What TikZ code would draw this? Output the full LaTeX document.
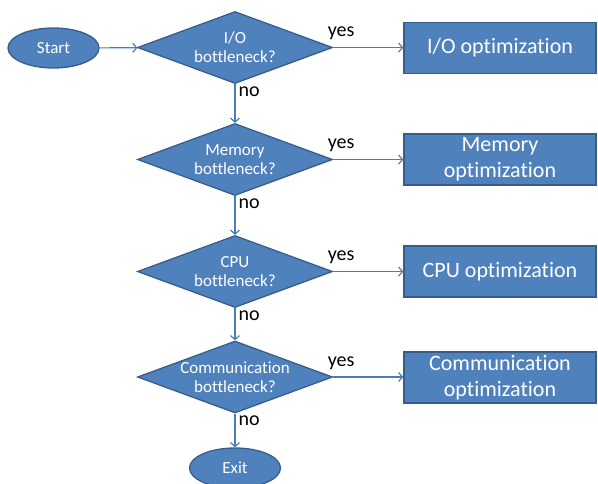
\documentclass[tikz,border=0pt]{standalone}
\usepackage{fontspec}
\setmainfont{Carlito}[Ligatures=NoCommon]
\usetikzlibrary{shapes.geometric, arrows.meta, positioning}
\definecolor{box_fill}{HTML}{4F81BD}
\definecolor{box_line}{HTML}{385D8A}
\definecolor{flow_line}{HTML}{4A7EBB}
\tikzset{
  shape_font/.style = {font=\fontsize{17}{19}\selectfont},
  action_font/.style = {font=\fontsize{22}{26}\selectfont},
  label_font/.style = {font=\fontsize{20}{24}\selectfont},
  blue_shape/.style = {draw=box_line, line width=1.3pt, fill=box_fill, text=white}
}
\tikzset{
  terminal/.style = {blue_shape, shape_font, ellipse, minimum width=91, minimum height=40, inner sep=0},
  decision/.style = {blue_shape, shape_font, diamond, aspect=2.7, minimum width=195, minimum height=72, inner sep=-4pt, align=center},
  action/.style = {blue_shape, action_font, rectangle, minimum width=192, minimum height=51, inner sep=0, align=center},
  flow/.style = {draw=flow_line, line width=1.2pt, -{Straight Barb[length=4pt, width=9pt]}},
  yes_lbl/.style = {label_font, inner sep=0, anchor=south west, xshift=-6, yshift=7},
  no_lbl/.style = {label_font, inner sep=0, anchor=north west, xshift=3, yshift=-2}
}
\begin{document}
\begin{tikzpicture}[x=1pt, y=-1pt]
    \useasboundingbox (0,0) rectangle (598,483);

    % Start and end
    \node[terminal] (start) at (53.5,48) {Start};
    \node[terminal] (exit) at (235,468) {Exit};

    % Questions
    \node[decision] (io_q) at (235,47.5) {I/O\\bottleneck?};
    \node[decision] (mem_q) at (235,159.5) {Memory\\bottleneck?};
    \node[decision] (cpu_q) at (235,271.5) {CPU\\bottleneck?};
    \node[decision] (comm_q) at (235,377) {Communication\\bottleneck?};

    % Optimizations
    \node[action] (io_opt) at (500,48) {I/O optimization};
    \node[action] (mem_opt) at (500,159.5) {Memory\\optimization};
    \node[action] (cpu_opt) at (500,271.5) {CPU optimization};
    \node[action] (comm_opt) at (500,377.5) {Communication\\optimization};

    % Arrows
    \draw[flow] (start) -- (io_q);

    \draw[flow] (io_q.east) -- node[yes_lbl, at start] {yes} (io_q.east -| io_opt.west);
    \draw[flow] (mem_q.east) -- node[yes_lbl, at start] {yes} (mem_q.east -| mem_opt.west);
    \draw[flow] (cpu_q.east) -- node[yes_lbl, at start] {yes} (cpu_q.east -| cpu_opt.west);
    \draw[flow] (comm_q.east) -- node[yes_lbl, at start] {yes} (comm_q.east -| comm_opt.west);

    \draw[flow] (io_q.south) -- node[no_lbl, at start] {no} (mem_q.north);
    \draw[flow] (mem_q.south) -- node[no_lbl, at start] {no} (cpu_q.north);
    \draw[flow] (cpu_q.south) -- node[no_lbl, at start] {no} (comm_q.north);
    \draw[flow] (comm_q.south) -- node[no_lbl, at start] {no} (exit.north);
\end{tikzpicture}
\end{document}
